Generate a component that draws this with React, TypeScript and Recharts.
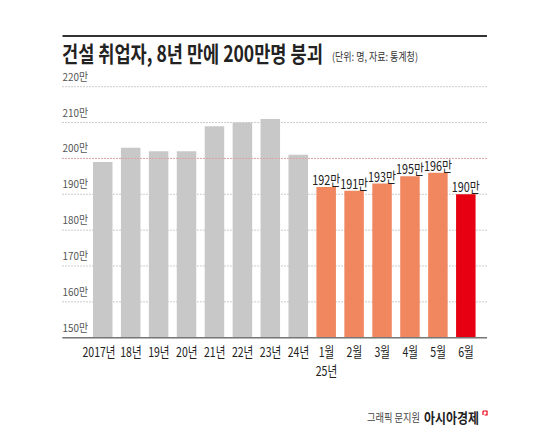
import React, { useLayoutEffect, useRef, useState } from 'react';
import { BarChart, Bar, XAxis, YAxis, CartesianGrid, ReferenceLine, Cell, LabelList } from 'recharts';

const categories = ['2017년', '18년', '19년', '20년', '21년', '22년', '23년', '24년', '1월', '2월', '3월', '4월', '5월', '6월'];
const values = [199, 203, 202, 202, 209, 210, 211, 201, 192, 191, 193, 195, 196, 190];
const barColors = ['#c8c8c8', '#c8c8c8', '#c8c8c8', '#c8c8c8', '#c8c8c8', '#c8c8c8', '#c8c8c8', '#c8c8c8', '#f0875f', '#f0875f', '#f0875f', '#f0875f', '#f0875f', '#e60012'];
const showLabel = [false, false, false, false, false, false, false, false, true, true, true, true, true, true];
const yTicks = [150, 160, 170, 180, 190, 200, 210, 220];
const subLabels: Record<string, string> = { '1월': '25년' };

const data = categories.map((c, i) => ({ name: c, value: values[i] }));

const FONT = '"Noto Sans CJK KR", "Noto Sans", sans-serif';

const FitText = (props: any) => {
  const { x, y, width, anchor = 'start', children, ...rest } = props;
  const ref = useRef<SVGTextElement>(null);
  const [s, setS] = useState(1);
  useLayoutEffect(() => {
    if (ref.current) {
      const w = ref.current.getComputedTextLength();
      if (w > 0) setS(width / w);
    }
  }, [width, children]);
  return (
    <g transform={`translate(${x},${y}) scale(${s},1)`}>
      <text ref={ref} x={0} y={0} textAnchor={anchor} fontFamily={FONT} {...rest}>
        {children}
      </text>
    </g>
  );
};

const YTick = (props: any) => {
  const { x, y, payload } = props;
  return (
    <g transform={`translate(${x},${y - 6}) scale(0.9,1)`}>
      <text x={0} y={0} textAnchor="start" fontSize={11} fill="#555" fontFamily={FONT}>
        {`${payload.value}만`}
      </text>
    </g>
  );
};

const XTick = (props: any) => {
  const { x, y, payload, index } = props;
  const sub = subLabels[payload.value];
  const shift = index === 0 ? -4 : 0;
  return (
    <g>
      <g transform={`translate(${x + shift},${y + 11}) scale(0.78,1)`}>
        <text x={0} y={0} textAnchor="middle" fontSize={13.5} fill="#222" fontFamily={FONT}>
          {payload.value}
        </text>
      </g>
      {sub ? (
        <g transform={`translate(${x},${y + 30}) scale(0.78,1)`}>
          <text x={0} y={0} textAnchor="middle" fontSize={13.5} fill="#222" fontFamily={FONT}>
            {sub}
          </text>
        </g>
      ) : null}
    </g>
  );
};

const ValueLabel = (props: any) => {
  const { x, y, width, index, value } = props;
  if (!showLabel[index]) return null;
  return (
    <g transform={`translate(${x + width / 2},${y - 2}) scale(0.8,1)`}>
      <text x={0} y={0} textAnchor="middle" fontSize={13.5} fill="#222" fontFamily={FONT}>
        {`${value}만`}
      </text>
    </g>
  );
};

export default function App() {
  return (
    <div style={{ position: 'absolute', left: 0, top: 0, width: 550, height: 440, background: '#fff', fontFamily: FONT }}>
      <svg width={550} height={440} style={{ position: 'absolute', left: 0, top: 0 }}>
        <line x1={62.5} x2={487} y1={36} y2={36} stroke="#333" strokeWidth={2} />
        <FitText x={62} y={62} width={261} fontSize={22} fontWeight={700} fill="#222">
          건설 취업자, 8년 만에 200만명 붕괴
        </FitText>
        <FitText x={332} y={60.5} width={86} fontSize={11} fill="#333">
          (단위: 명, 자료: 통계청)
        </FitText>
        <FitText x={367} y={421.5} width={53} fontSize={11.5} fill="#444">
          그래픽 문지원
        </FitText>
        <FitText x={424} y={422.5} width={55} fontSize={14} fontWeight={700} fill="#222">
          아시아경제
        </FitText>
        <path d="M483 411 H487 V415 H484.5 M483 411 V415" fill="none" stroke="#e60012" strokeWidth={1.2} />
      </svg>
      <div style={{ position: 'absolute', left: 0, top: 0 }}>
        <BarChart width={550} height={440} data={data} margin={{ top: 86.7, right: 63, bottom: 72.3, left: 0 }}>
          <CartesianGrid vertical={false} stroke="#999" strokeDasharray="1 2" />
          <ReferenceLine y={200} stroke="#f08080" strokeDasharray="1 2" />
          <YAxis
            domain={[150, 220]}
            ticks={yTicks}
            width={62.5}
            tickSize={0}
            tickMargin={0}
            axisLine={false}
            tickLine={false}
            tick={(p: any) => <YTick {...p} />}
            allowDataOverflow
          />
          <XAxis
            dataKey="name"
            interval={0}
            tickLine={false}
            height={30}
            axisLine={{ stroke: '#777', strokeWidth: 1.5 }}
            padding={{ left: 26.5, right: 7 }}
            tick={(p: any) => <XTick {...p} />}
          />
          <Bar dataKey="value" barSize={19.5} isAnimationActive={false}>
            {data.map((d, i) => (
              <Cell key={d.name} fill={barColors[i]} />
            ))}
            <LabelList dataKey="value" content={<ValueLabel />} />
          </Bar>
        </BarChart>
      </div>
    </div>
  );
}
